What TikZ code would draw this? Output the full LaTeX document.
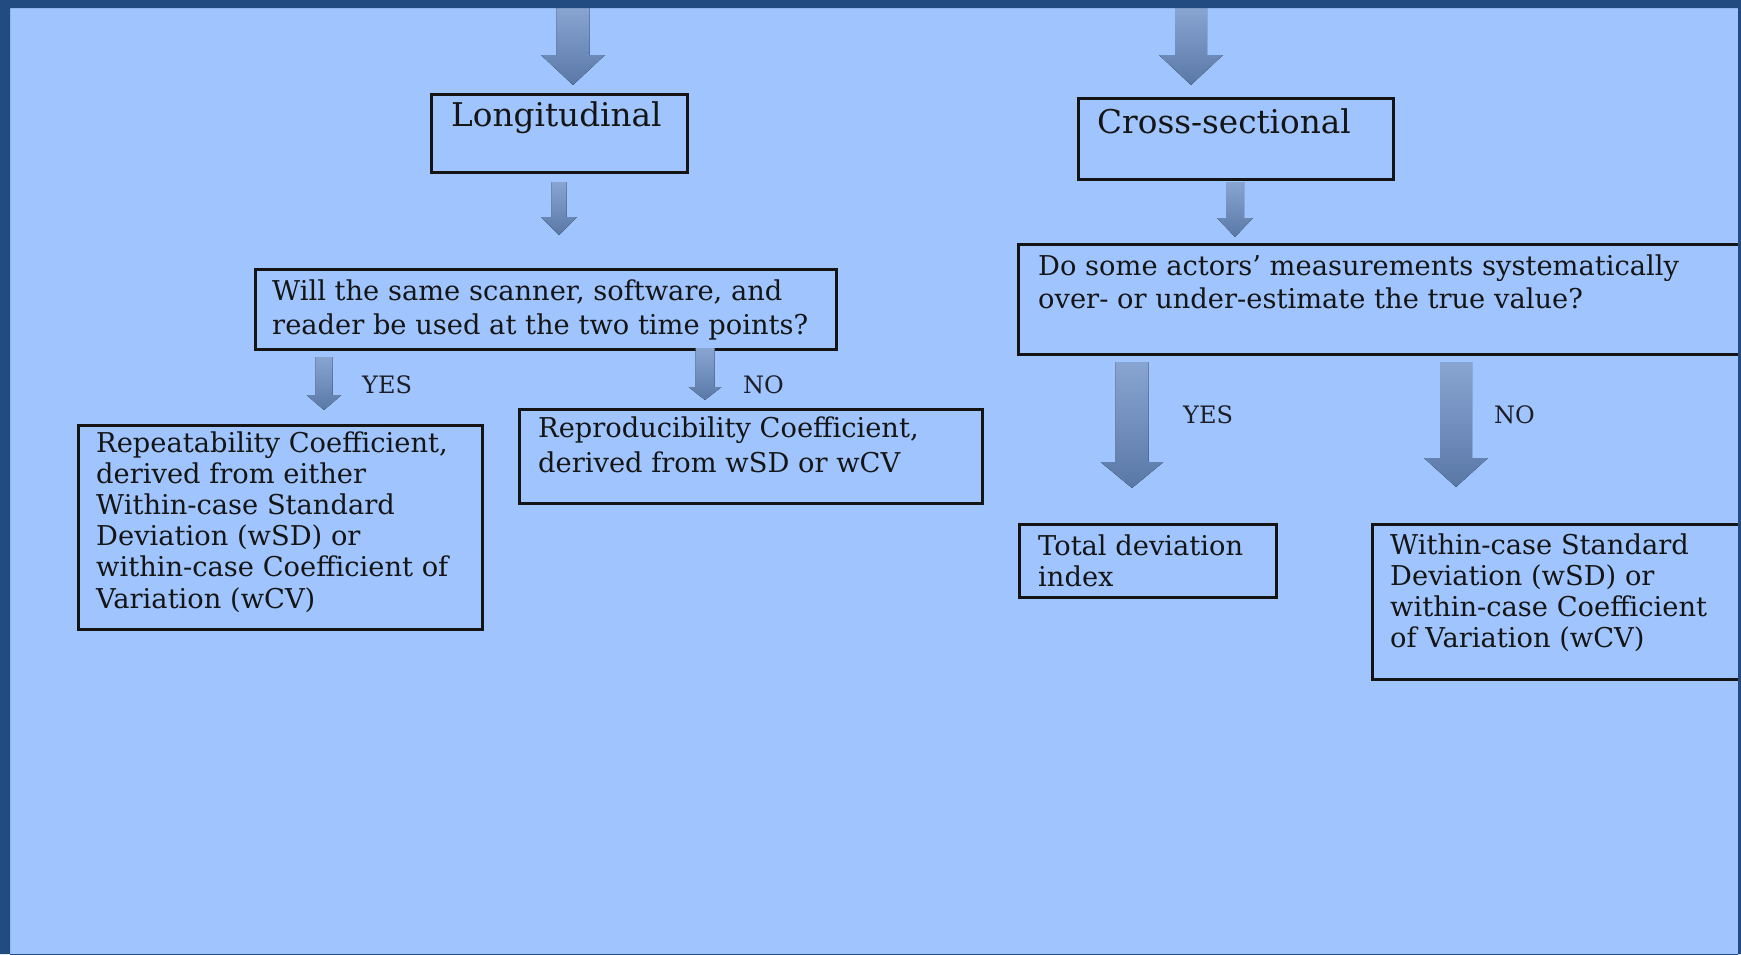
\documentclass[tikz,border=0pt]{standalone}
\usepackage{fontspec}
\setmainfont{DejaVu Serif}
\definecolor{frame}{HTML}{224B82}
\definecolor{bg}{HTML}{A0C5FE}
\definecolor{boxline}{HTML}{141414}
\definecolor{textcol}{HTML}{151515}
\definecolor{labcol}{HTML}{1E1E28}
\definecolor{arrowtop}{HTML}{88A5D2}
\definecolor{arrowbot}{HTML}{5A78A6}
\newcommand\fatarrow[7]{% name, cx, top, shaft width, head width, head start, tip
  \fill[arrowfill] ({#2-#4/2},#3) -- ({#2+#4/2},#3) -- ({#2+#4/2},#6) -- ({#2+#5/2},#6)
    -- (#2,#7) -- ({#2-#5/2},#6) -- ({#2-#4/2},#6) -- cycle;
  \coordinate (#1) at (#2,#7);}
\begin{document}
\begin{tikzpicture}[x=1pt,y=-1pt,
  box/.style={draw=boxline, line width=3pt, inner sep=0pt, anchor=north west},
  txt/.style={inner sep=0pt, text=textcol, align=left, anchor=base west},
  headtxt/.style={inner sep=0pt, text=textcol, anchor=base west, font=\fontsize{32.7}{39}\selectfont},
  lab/.style={inner sep=0pt, text=labcol, anchor=base west, font=\fontsize{24}{28}\selectfont},
  arrowfill/.style={top color=arrowtop, bottom color=arrowbot}]
\useasboundingbox (0,0) rectangle (1741,954);
\fill[bg] (0,0) rectangle (1741,954);

% boxes
\node[box, minimum width=256pt, minimum height=78pt] (long) at (430,93) {};
\node[box, minimum width=315pt, minimum height=81pt] (cross) at (1077,97) {};
\node[box, minimum width=581pt, minimum height=80pt] (q1) at (254,268) {};
\node[box, minimum width=760pt, minimum height=110pt] (q2) at (1017,243) {};
\node[box, minimum width=404pt, minimum height=204pt] (rep) at (77,424) {};
\node[box, minimum width=463pt, minimum height=94pt] (repro) at (518,408) {};
\node[box, minimum width=257pt, minimum height=73pt] (tdi) at (1018,523) {};
\node[box, minimum width=400pt, minimum height=155pt] (within) at (1371,523) {};

% texts (multi-line nodes anchored at the baseline of their last line)
\node[headtxt] (longt) at (451,126) {Longitudinal};
\node[headtxt] (crosst) at (1097,133) {Cross-sectional};
\node[txt, font=\fontsize{27.3}{34}\selectfont] (q1t) at (272,334)
  {Will the same scanner, software, and\\reader be used at the two time points?};
\node[txt, font=\fontsize{27.3}{33}\selectfont] (q2t) at (1038,308)
  {Do some actors’ measurements systematically\\over- or under-estimate the true value?};
\node[txt, font=\fontsize{27.3}{31.2}\selectfont] (rept) at (96,608)
  {Repeatability Coefficient,\\derived from either\\Within-case Standard\\Deviation (wSD) or\\within-case Coefficient of\\Variation (wCV)};
\node[txt, font=\fontsize{27.3}{35}\selectfont] (reprot) at (538,472)
  {Reproducibility Coefficient,\\derived from wSD or wCV};
\node[txt, font=\fontsize{27.3}{31}\selectfont] (tdit) at (1038,586)
  {Total deviation\\index};
\node[txt, font=\fontsize{27.3}{30.7}\selectfont] (withint) at (1390,647)
  {Within-case Standard\\Deviation (wSD) or\\within-case Coefficient\\of Variation (wCV)};

% block arrows
\fatarrow{a1}{573}{8}{33}{64}{55}{85}
\fatarrow{a2}{1191}{8}{32}{64}{55}{85}
\fatarrow{a3}{559}{182}{15}{36}{217}{235}
\fatarrow{a4}{1235}{182}{18}{36}{218}{237}
\fatarrow{a5}{324}{357}{17}{35}{395}{410}
\fatarrow{a6}{705}{348}{19}{33}{387}{400}
\fatarrow{a7}{1132}{362}{33}{63}{462}{488}
\fatarrow{a8}{1456}{362}{32}{64}{458}{487}

% labels
\node[lab] (yes1) at (362,393) {YES};
\node[lab] (no1) at (743,393) {NO};
\node[lab] (yes2) at (1183,423) {YES};
\node[lab] (no2) at (1494,423) {NO};

% frame
\fill[frame, even odd rule] (0,0) rectangle (1741,954) (10,8) rectangle (1738,960);
\end{tikzpicture}
\end{document}
